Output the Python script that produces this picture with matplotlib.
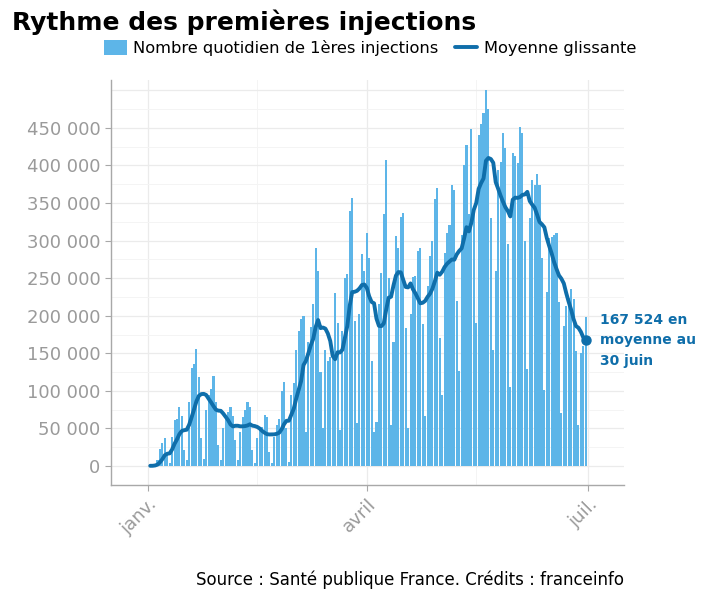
import numpy as np
import pandas as pd
import matplotlib
matplotlib.use("Agg")
import matplotlib.pyplot as plt
from matplotlib.ticker import FuncFormatter, MultipleLocator

# daily first injections (thousands), 27 dec 2020 -> 30 june 2021
start = "2020-12-27"
end = "2021-06-30"
daily_k = [
    0.1, 0.1, 0.2, 0.3, 0.5, 0.3, 0.5, 0.3,          # 27 dec - 3 jan
    3, 8, 22, 30, 37, 14, 4,                          # 4 jan
    39, 61, 63, 79, 67, 21, 8,                        # 11 jan
    85, 130, 136, 156, 118, 37, 10,                   # 18 jan
    75, 95, 103, 120, 85, 28, 8,                      # 25 jan
    50, 65, 72, 79, 67, 34, 8,                        # 1 feb
    45, 65, 74, 85, 78, 21, 4,                        # 8 feb
    37, 50, 52, 68, 65, 18, 4,                        # 15 feb
    38, 55, 62, 100, 112, 50, 5,                      # 22 feb
    95, 110, 155, 180, 195, 200, 45,                  # 1 mar
    165, 185, 215, 290, 260, 125, 50,                 # 8 mar
    155, 140, 145, 150, 230, 190, 48,                 # 15 mar
    180, 250, 255, 340, 357, 193, 57,                 # 22 mar
    202, 282, 260, 310, 277, 140, 45,                 # 29 mar
    59, 215, 257, 335, 407, 250, 54,                  # 5 apr
    165, 306, 290, 332, 337, 184, 50,                 # 12 apr
    202, 251, 253, 286, 290, 189, 67,                 # 19 apr
    240, 280, 300, 355, 370, 170, 95,                 # 26 apr
    284, 310, 321, 374, 368, 220, 127,                # 3 may
    308, 401, 427, 335, 449, 340, 190,                # 10 may
    440, 455, 470, 500, 475, 330, 155,                # 17 may
    260, 394, 405, 443, 423, 295, 105,                # 24 may
    416, 413, 403, 451, 443, 299, 129,                # 31 may
    330, 380, 374, 388, 374, 277, 101,                # 7 jun
    231, 304, 305, 307, 310, 218, 70,                 # 14 jun
    187, 213, 224, 235, 222, 153, 54,                 # 21 jun
    150, 160, 198,                                    # 28 jun
]
x_ticks = ["2021-01-01", "2021-04-01", "2021-07-01"]
x_labels = ["janv.", "avril", "juil."]

dates = pd.date_range(start, end)
df = pd.DataFrame({"date": dates, "n": np.array(daily_k) * 1000})
df["moy"] = df["n"].rolling(7).mean()

bar_col = "#5db5e8"
line_col = "#0f6eaa"
grid_col = "#ebebeb"
txt_gray = "#9a9a9a"

fig = plt.figure(figsize=(7.2, 6), dpi=100)
ax = fig.add_axes([0.154, 0.192, 0.713, 0.675])

bars = ax.bar(df["date"], df["n"], width=0.85, color=bar_col, zorder=2)
line, = ax.plot(df["date"], df["moy"], color=line_col, lw=2.8, zorder=3, solid_capstyle="round")

last = df.iloc[-1]
ax.plot(last["date"], last["moy"], "o", color=line_col, ms=6.5, zorder=4)
ax.text(pd.Timestamp("2021-07-06"), last["moy"], "167 524 en\nmoyenne au\n30 juin",
        color=line_col, fontsize=10, fontweight="bold", va="center", ha="left",
        linespacing=1.6)

ax.set_xlim(pd.Timestamp("2020-12-16 20:00"), pd.Timestamp("2021-07-15 20:00"))
ax.set_ylim(-25000, 514000)

ax.set_yticks(np.arange(0, 500001, 50000))
ax.yaxis.set_minor_locator(MultipleLocator(25000))
ax.yaxis.set_major_formatter(FuncFormatter(
    lambda v, p: "" if v > 450000 else f"{int(v):,}".replace(",", " ")))

ax.set_xticks(pd.to_datetime(x_ticks))
ax.set_xticklabels(x_labels)
ax.set_xticks(pd.to_datetime(["2021-02-15", "2021-05-16"]), minor=True)

ax.grid(True, which="major", color=grid_col, lw=0.9, zorder=0)
ax.grid(True, which="minor", color="#f4f4f4", lw=0.7, zorder=0)

for s in ["top", "right"]:
    ax.spines[s].set_visible(False)
for s in ["left", "bottom"]:
    ax.spines[s].set_color("#a8a8a8")
    ax.spines[s].set_linewidth(1)

ax.tick_params(axis="both", which="major", labelsize=13, labelcolor=txt_gray, color="#a8a8a8", length=4)
ax.tick_params(which="minor", length=0)
ax.yaxis.get_major_ticks()[-1].tick1line.set_visible(False)
for lab in ax.get_xticklabels():
    lab.set_rotation(45)
    lab.set_ha("right")
    lab.set_rotation_mode("anchor")

fig.text(0.017, 0.963, "Rythme des premières injections", fontsize=18, fontweight="bold", va="center")
fig.legend([bars, line], ["Nombre quotidien de 1ères injections", "Moyenne glissante"],
           loc="center", bbox_to_anchor=(0.514, 0.92), ncol=2, frameon=False, fontsize=11.7,
           handlelength=1.4, handleheight=1.1, columnspacing=1.0, handletextpad=0.4)
fig.text(0.867, 0.033, "Source : Santé publique France. Crédits : franceinfo", fontsize=12,
         ha="right", va="center")

fig.savefig("out.png", dpi=100)
